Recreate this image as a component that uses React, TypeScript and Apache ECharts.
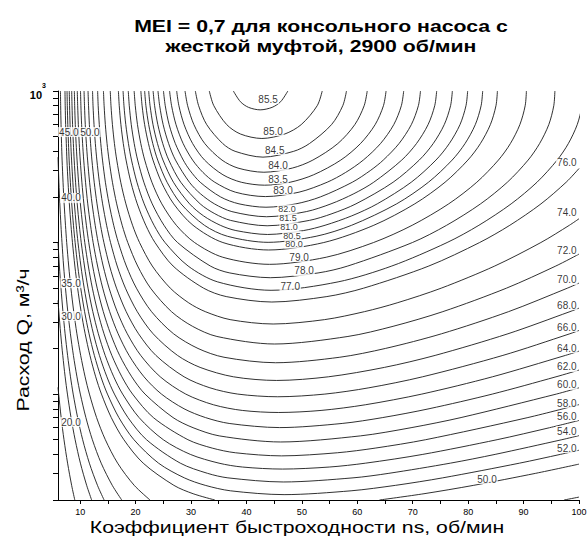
import React, { useEffect, useRef } from 'react';
import * as echarts from 'echarts';

type Pt = [number, number];

// Axis ticks / labels
const X_TICK_VALUES = [10, 15, 20, 25, 30, 35, 40, 45, 50, 55, 60, 65, 70, 75, 80, 85, 90, 95, 100];
const X_LABEL_VALUES = [10, 20, 30, 40, 50, 60, 70, 80, 90, 100];
const Y_TICK_VALUES = [2, 3, 4, 5, 6, 7, 8, 9, 10, 20, 30, 40, 50, 60, 70, 80, 90, 100, 200, 300, 400, 500, 600, 700, 800, 900, 1000];
const Y_LABEL_VALUES = [1000];

// Contour lines: [ns, Q]
const L855: Pt[] = [[37.64,1000],[38.91,850],[40.37,780],[42.47,751],[44.63,780],[46.17,850],[47.47,1000]];
const L850: Pt[] = [[33.3,1000],[34.11,800],[36.44,600],[38.93,520],[42.78,486],[46.9,520],[49.88,600],[52.77,800],[53.67,1000]];
const L845: Pt[] = [[30.78,1000],[31.37,800],[32.83,600],[35.72,450],[37.95,400],[42.98,366],[48.53,400],[51.37,450],[55.35,600],[57.38,800],[58.05,1000]];
const L840: Pt[] = [[28.92,1000],[29.39,800],[30.52,600],[32.48,450],[35.59,350],[38.48,310],[43.14,291],[48.27,310],[51.98,350],[56.49,450],[59.55,600],[61.24,800],[61.79,1000]];
const L835: Pt[] = [[27.41,1000],[27.81,800],[28.75,600],[30.29,450],[32.45,350],[35.76,280],[39.07,250],[43.28,239],[47.88,250],[52.12,280],[57.02,350],[60.58,450],[63.22,600],[64.72,800],[65.19,1000]];
const L830: Pt[] = [[26.13,1000],[26.49,800],[27.29,600],[28.58,450],[30.29,350],[32.16,290],[34.29,250],[37.99,215],[43.41,201],[49.49,215],[54.56,250],[57.89,290],[61.08,350],[64.19,450],[66.58,600],[67.95,800],[68.37,1000]];
const L825: Pt[] = [[25.03,1000],[25.35,800],[26.05,600],[27.17,450],[28.6,350],[29.78,300],[31.66,250],[35.33,200],[38.66,180],[43.52,171],[48.92,180],[53.34,200],[59.1,250],[62.43,300],[64.69,350],[67.53,450],[69.75,600],[71.02,800],[71.4,1000]];
const L820: Pt[] = [[24.04,1000],[24.34,800],[24.97,600],[25.96,450],[27.2,350],[29.71,250],[31.69,210],[34.22,180],[37.37,160],[43.63,148],[50.8,160],[55.26,180],[59.38,210],[62.96,250],[68.02,350],[70.68,450],[72.77,600],[73.97,800],[74.32,1000]];
const L815: Pt[] = [[23.16,1000],[23.43,800],[24.01,600],[24.9,450],[25.99,350],[28.15,250],[31.65,180],[34.29,155],[37.14,140],[43.73,129],[51.35,140],[55.43,155],[59.76,180],[66.46,250],[71.18,350],[73.7,450],[75.69,600],[76.83,800],[77.15,1000]];
const L810: Pt[] = [[22.36,1000],[22.61,800],[23.14,600],[23.95,450],[24.94,350],[26.83,250],[29.74,180],[32.25,150],[35.28,130],[38.09,120],[43.82,113],[50.32,120],[54.18,130],[59.0,150],[63.6,180],[69.73,250],[74.19,350],[76.6,450],[78.53,600],[79.61,800],[79.91,1000]];
const L805: Pt[] = [[21.63,1000],[21.86,800],[22.36,600],[23.1,450],[23.99,350],[25.68,250],[28.19,180],[32.41,130],[36.57,110],[43.91,100.3],[52.57,110],[58.98,130],[67.1,180],[72.84,250],[77.11,350],[79.44,450],[81.29,600],[82.34,800],[82.62,1000]];
const L800: Pt[] = [[20.95,1000],[21.17,800],[21.63,600],[22.32,450],[23.14,350],[24.67,250],[26.87,180],[30.36,130],[35.75,100],[43.99,89.3],[53.95,100],[62.98,130],[70.37,180],[75.83,250],[79.95,350],[82.21,450],[84.01,600],[85.02,800],[85.28,1000]];
const L790: Pt[] = [[19.74,1000],[19.94,800],[20.34,600],[20.94,450],[21.65,350],[22.94,250],[24.73,180],[27.35,130],[30.64,100],[35.72,80],[44.16,71.8],[54.39,80],[62.93,100],[69.91,130],[76.49,180],[81.56,250],[85.46,350],[87.62,450],[89.33,600],[90.29,800],[90.51,1000]];
const L780: Pt[] = [[18.68,1000],[18.86,800],[19.22,600],[19.75,450],[20.37,350],[21.49,250],[23,180],[25.12,130],[27.57,100],[33.48,70],[37,63],[44.3,58.6],[52.92,63],[58.29,70],[69.94,100],[76.12,130],[82.24,180],[87.07,250],[90.82,350],[92.89,450],[94.55,600],[95.45,800],[95.65,1000]];
const L770: Pt[] = [[17.74,1000],[17.9,800],[18.23,600],[18.71,450],[19.26,350],[20.24,250],[21.55,180],[23.33,130],[25.31,100],[29.47,70],[34.8,55],[44.44,48.4],[56.53,55],[66.23,70],[76.2,100],[81.94,130],[87.76,180],[92.42,250],[96.06,350],[98.08,450],[99.68,600],[100.55,800],[100.72,1000]];
const L760: Pt[] = [[16.9,1000],[17.05,800],[17.35,600],[17.78,450],[18.28,350],[19.15,250],[20.3,180],[21.84,130],[23.5,100],[26.76,70],[32.27,50],[36.35,44],[44.58,40.5],[54.51,44],[61.14,50],[72.91,70],[82.06,100],[87.52,130],[93.14,180],[97.68,250],[100,308]];
const L740: Pt[] = [[15.43,1000],[15.56,800],[15.82,600],[16.18,450],[16.6,350],[17.32,250],[18.25,180],[19.45,130],[20.71,100],[23.01,70],[26.26,50],[29.58,40],[32.57,35],[37.05,31],[44.82,29],[54.11,31],[61.31,35],[67.19,40],[75.14,50],[84.8,70],[93.12,100],[98.26,130],[100,143.5]];
const L720: Pt[] = [[14.2,1000],[14.32,800],[14.54,600],[14.85,450],[15.21,350],[15.82,250],[16.59,180],[17.58,130],[18.59,100],[20.37,70],[22.7,50],[26.47,35],[30.27,28],[34.67,24],[45.05,21.4],[58.31,24],[66.45,28],[75.44,35],[86.91,50],[95.82,70],[100,83.9]];
const L700: Pt[] = [[13.15,1000],[13.25,800],[13.45,600],[13.72,450],[14.03,350],[14.55,250],[15.22,180],[16.05,130],[16.89,100],[18.33,70],[20.15,50],[22.87,35],[26.85,25],[31.26,20],[35.95,17.5],[45.26,16.1],[56.84,17.5],[65.06,20],[75.2,25],[87.3,35],[97.91,50],[100,54]];
const L680: Pt[] = [[12.23,1000],[12.32,800],[12.5,600],[12.74,450],[13.01,350],[13.47,250],[14.05,180],[14.77,130],[15.48,100],[16.68,70],[18.17,50],[20.3,35],[23.16,25],[27.56,18],[31.64,15],[37.66,13],[45.46,12.3],[54.78,13],[64.89,15],[74.05,18],[87.18,25],[98.37,35],[100,36.9]];
const L660: Pt[] = [[11.42,1000],[11.51,800],[11.66,600],[11.88,450],[12.12,350],[12.53,250],[13.04,180],[13.67,130],[14.28,100],[15.31,70],[16.56,50],[18.3,35],[20.53,25],[23.66,18],[28.75,13],[33.41,11],[38.43,10],[45.65,9.6],[54.15,10],[62.09,11],[71.77,13],[86.27,18],[98.35,25],[100,26.3]];
const L640: Pt[] = [[10.7,1000],[10.78,800],[10.92,600],[11.12,450],[11.34,350],[11.7,250],[12.15,180],[12.71,130],[13.25,100],[14.15,70],[15.22,50],[16.68,35],[18.5,25],[20.92,18],[24.45,13],[29.05,10],[34.05,8.5],[39.25,7.8],[45.83,7.56],[53.46,7.8],[61.45,8.5],[71.64,10],[84.38,13],[97.56,18],[100,19.2]];
const L620: Pt[] = [[10.06,1000],[10.13,800],[10.26,600],[10.44,450],[10.64,350],[10.97,250],[11.37,180],[11.87,130],[12.34,100],[13.14,70],[14.07,50],[15.32,35],[16.85,25],[18.82,18],[21.52,13],[24.67,10],[28.74,8],[32.6,7],[36.88,6.4],[46,6.01],[57.27,6.4],[64.6,7],[72.94,8],[84.36,10],[95.85,13],[100,14.4]];
const L600: Pt[] = [[9.48,1000],[9.55,800],[9.67,600],[9.83,450],[10.01,350],[10.31,250],[10.67,180],[11.12,130],[11.55,100],[12.25,70],[13.07,50],[14.17,35],[15.48,25],[17.12,18],[19.31,13],[21.7,10],[26.75,7],[30.37,6],[35.08,5.3],[46.17,4.83],[60.59,5.3],[69.7,6],[78.72,7],[95.91,10],[100,11]];
const L580: Pt[] = [[8.95,1000],[9.01,800],[9.12,600],[9.27,450],[9.44,350],[9.71,250],[10.04,180],[10.45,130],[10.83,100],[11.47,70],[12.2,50],[13.16,35],[14.3,25],[15.71,18],[17.53,13],[19.45,10],[23.2,7],[29.44,5],[33.83,4.4],[38,4.1],[46.33,3.91],[56.41,4.1],[63.22,4.4],[72.34,5],[90.78,7],[100,8.52]];
const L560: Pt[] = [[8.47,1000],[8.53,800],[8.63,600],[8.77,450],[8.92,350],[9.17,250],[9.47,180],[9.84,130],[10.19,100],[10.77,70],[11.42,50],[12.28,35],[13.28,25],[14.51,18],[16.06,13],[17.66,10],[20.62,7],[24.99,5],[29.87,4],[35.05,3.5],[39.29,3.3],[46.49,3.2],[54.94,3.3],[61.48,3.5],[71.82,4],[85.22,5],[94.69,6],[100,6.7]];
const L540: Pt[] = [[8.03,1000],[8.09,800],[8.18,600],[8.31,450],[8.45,350],[8.68,250],[8.96,180],[9.29,130],[9.61,100],[10.13,70],[10.73,50],[11.5,35],[12.39,25],[13.47,18],[14.82,13],[16.18,10],[18.62,7],[21.97,5],[28.07,3.5],[32.97,3],[36.65,2.8],[46.64,2.63],[59.23,2.8],[65.7,3],[76.78,3.5],[84.87,4],[96.91,5],[100,5.32]];
const L520: Pt[] = [[7.63,1000],[7.68,800],[7.77,600],[7.89,450],[8.01,350],[8.23,250],[8.48,180],[8.79,130],[9.09,100],[9.56,70],[10.1,50],[10.8,35],[11.6,25],[12.56,18],[13.74,13],[14.92,10],[16.98,7],[19.7,5],[24.14,3.5],[28.79,2.8],[32.56,2.5],[37.11,2.3],[46.79,2.17],[58.88,2.3],[66.92,2.5],[75.41,2.8],[89.26,3.5],[96.64,4],[100,4.26]];
const L500A: Pt[] = [[7.26,1000],[7.3,800],[7.38,600],[7.5,450],[7.61,350],[7.81,250],[8.05,180],[8.34,130],[8.61,100],[9.04,70],[9.54,50],[10.17,35],[10.9,25],[11.76,18],[12.8,13],[13.84,10],[15.61,7],[17.88,5],[21.37,3.5],[26.9,2.5],[30.38,2.2],[34.3,2]];
const L500B: Pt[] = [[64,2],[72.03,2.2],[81.01,2.5],[92.19,3],[100,3.45]];
const L450A: Pt[] = [[6.44,1000],[6.48,800],[6.55,600],[6.64,450],[6.74,350],[6.91,250],[7.11,180],[7.35,130],[7.57,100],[7.93,70],[8.33,50],[8.84,35],[9.41,25],[10.09,18],[10.89,13],[11.67,10],[12.96,7],[14.54,5],[16.76,3.5],[19.75,2.5],[22.6,2]];
const L450B: Pt[] = [[97.3,2],[100,2.09]];
const L400: Pt[] = [[6,366],[6.02,350],[6.16,250],[6.33,180],[6.53,130],[6.72,100],[7.01,70],[7.35,50],[7.77,35],[8.24,25],[8.78,18],[9.42,13],[10.03,10],[11.03,7],[12.2,5],[13.79,3.5],[15.79,2.5],[17.5,2]];
const L350: Pt[] = [[6,100],[6.25,70],[6.54,50],[6.89,35],[7.28,25],[7.73,18],[8.25,13],[8.74,10],[9.54,7],[10.45,5],[11.66,3.5],[13.12,2.5],[14.32,2]];
const L300: Pt[] = [[6,41.5],[6.15,35],[6.48,25],[6.86,18],[7.29,13],[7.7,10],[8.35,7],[9.09,5],[10.04,3.5],[11.17,2.5],[12.07,2]];
const L200: Pt[] = [[6,11.08],[6.12,10],[6.57,7],[7.08,5],[7.73,3.5],[8.46,2.5],[9.03,2]];

const CONTOUR_SEGMENTS: Pt[][] = [
  L855, L850, L845, L840, L835, L830, L825, L820, L815, L810, L805, L800,
  L790, L780, L770, L760, L740, L720, L700, L680, L660, L640, L620, L600,
  L580, L560, L540, L520, L500A, L500B, L450A, L450B, L400, L350, L300, L200,
];

// Contour level labels: [ns, Q, text]
const LEVEL_LABELS: [number, number, string][] = [
  [43.9, 885, '85.5'], [44.8, 544, '85.0'], [45.1, 408, '84.5'], [45.7, 320, '84.0'],
  [45.7, 262, '83.5'], [46.6, 222, '83.0'], [49.5, 80.2, '79.0'],
  [50.4, 64.9, '78.0'], [47.9, 51.6, '77.0'],
  [97.8, 335, '76.0'], [97.8, 157, '74.0'], [97.8, 89.2, '72.0'], [97.8, 56.6, '70.0'],
  [97.8, 38.7, '68.0'], [97.8, 27.7, '66.0'], [97.8, 20.1, '64.0'], [97.8, 15.1, '62.0'],
  [97.8, 11.5, '60.0'], [97.8, 8.72, '58.0'], [97.8, 7.16, '56.0'], [97.8, 5.7, '54.0'],
  [97.8, 4.4, '52.0'], [83.4, 2.75, '50.0'],
  [7.95, 536, '45.0'], [11.75, 536, '50.0'], [8.35, 197, '40.0'], [8.35, 54, '35.0'],
  [8.35, 32.7, '30.0'], [8.35, 6.53, '20.0'],
];
// Tightly packed labels near the ridge: [ns, Q, text]
const CLUSTER_LABELS: [number, number, string][] = [
  [47.3, 166.4, '82.0'], [47.5, 145.1, '81.5'], [47.7, 126.6, '81.0'],
  [48.2, 111.2, '80.5'], [48.6, 97.7, '80.0'],
];

const TITLE_LINES = ['MEI = 0,7 для консольного насоса с', 'жесткой муфтой, 2900 об/мин'];
const X_NAME = 'Коэффициент быстроходности ns, об/мин';
const Y_NAME = 'Расход Q, м³/ч';

export default function App() {
  const ref = useRef<HTMLDivElement>(null);
  useEffect(() => {
    document.body.style.margin = '0';
    const chart = echarts.init(ref.current as HTMLDivElement, null, { renderer: 'svg' });
    const font = 'Liberation Sans';
    const series: any[] = CONTOUR_SEGMENTS.map((seg) => ({
      type: 'line',
      data: seg,
      symbol: 'none',
      showSymbol: false,
      smooth: 0.3,
      silent: true,
      clip: true,
      z: 2,
      lineStyle: { color: '#1a1a1a', width: 0.9 },
    }));
    const labelSeries = (items: [number, number, string][], size: number) => ({
      type: 'scatter',
      data: items.map(([x, y, t]) => ({ value: [x, y], name: t })),
      symbolSize: 1,
      itemStyle: { color: 'rgba(0,0,0,0)' },
      clip: false,
      silent: true,
      z: 5,
      label: {
        show: true,
        position: 'inside',
        formatter: '{b}',
        fontSize: size,
        fontFamily: font,
        color: '#000',
        backgroundColor: '#fff',
        padding: [0, 1],
        lineHeight: size,
      },
    });
    series.push(labelSeries(LEVEL_LABELS, 10));
    series.push(labelSeries(CLUSTER_LABELS, 9));
    chart.setOption({
      animation: false,
      grid: { left: 58, right: 9, top: 91, bottom: 40, containLabel: false, outerBoundsMode: 'none' },
      xAxis: {
        type: 'value',
        min: 6,
        max: 100,
        splitLine: { show: false },
        axisLine: { show: true, onZero: false, lineStyle: { color: '#000', width: 1 } },
        axisTick: { show: true, customValues: X_TICK_VALUES, length: 4, lineStyle: { color: '#000' } },
        axisLabel: { customValues: X_LABEL_VALUES, fontSize: 9, fontFamily: font, color: '#000', margin: 7 },
      },
      yAxis: {
        type: 'log',
        logBase: 10,
        min: 2,
        max: 1000,
        splitLine: { show: false },
        axisLine: { show: true, onZero: false, lineStyle: { color: '#000', width: 1 } },
        axisTick: { show: true, customValues: Y_TICK_VALUES, length: 5, lineStyle: { color: '#000' } },
        axisLabel: {
          customValues: Y_LABEL_VALUES,
          margin: 12,
          formatter: () => '{a|10}{b|3}',
          rich: {
            a: { fontSize: 11, fontWeight: 'bold', fontFamily: font, color: '#000', lineHeight: 19, verticalAlign: 'bottom' },
            b: { fontSize: 7, fontWeight: 'bold', fontFamily: font, color: '#000', verticalAlign: 'top' },
          },
        },
      },
      graphic: [
        {
          type: 'text', x: 321, y: 26, scaleX: 1.25, silent: true,
          style: { text: TITLE_LINES[0], font: `bold 17px "${font}"`, fill: '#000', align: 'center', verticalAlign: 'middle' },
        },
        {
          type: 'text', x: 321, y: 46.5, scaleX: 1.25, silent: true,
          style: { text: TITLE_LINES[1], font: `bold 17px "${font}"`, fill: '#000', align: 'center', verticalAlign: 'middle' },
        },
        {
          type: 'text', x: 297, y: 527, scaleX: 1.25, silent: true,
          style: { text: X_NAME, font: `17px "${font}"`, fill: '#000', align: 'center', verticalAlign: 'middle' },
        },
        {
          type: 'text', x: 23, y: 340, scaleX: 1.25, rotation: Math.PI / 2, silent: true,
          style: { text: Y_NAME, font: `17px "${font}"`, fill: '#000', align: 'center', verticalAlign: 'middle' },
        },
      ],
      series,
    });
    return () => chart.dispose();
  }, []);
  return <div ref={ref} style={{ width: 588, height: 540 }} />;
}
